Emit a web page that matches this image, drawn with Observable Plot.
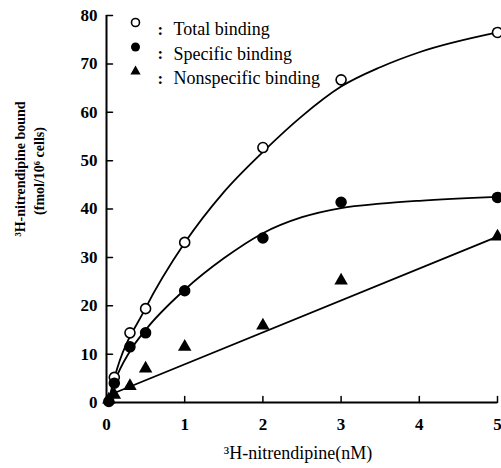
<!DOCTYPE html>
<html>
<head>
<meta charset="utf-8">
<script src="https://cdn.jsdelivr.net/npm/d3@7"></script>
<script src="https://cdn.jsdelivr.net/npm/@observablehq/plot@0.6"></script>
<style>
  html, body { margin: 0; padding: 0; background: #fff; }
</style>
</head>
<body>
<div id="chart"></div>
<script>
// Measured points
const totalX = [0.1, 0.3, 0.5, 1, 2, 3, 5];
const totalY = [5.2, 14.4, 19.4, 33.1, 52.7, 66.7, 76.5];
const specificX = [0.03, 0.1, 0.3, 0.5, 1, 2, 3, 5];
const specificY = [0.2, 4.0, 11.5, 14.4, 23.1, 34.0, 41.4, 42.4];
const nonspecX = [0.03, 0.1, 0.3, 0.5, 1, 2, 3, 5];
const nonspecY = [0.6, 1.6, 3.4, 7.0, 11.5, 15.9, 25.2, 34.3];

// Fitted curves as drawn in the figure
const totalFitX = [0.03, 0.1, 0.5, 1, 1.5, 2, 2.5, 3, 3.5, 4, 5];
const totalFitY = [0.5, 5.0, 19.5, 33.0, 43.5, 51.8, 59.2, 65.3, 69.3, 72.4, 76.5];
const specFitX = [0.03, 0.1, 0.3, 0.5, 1, 1.5, 2, 2.5, 3, 3.5, 4, 5];
const specFitY = [0.2, 4.0, 10.6, 15.0, 23.3, 29.8, 35.0, 38.3, 40.2, 41.1, 41.7, 42.5];
const nonspecFitX = [0.03, 5];
const nonspecFitY = [1.5, 34.3];

const xTicks = [0, 1, 2, 3, 4, 5];
const yTicks = [0, 10, 20, 30, 40, 50, 60, 70, 80];

const legendLabels = ["Total binding", "Specific binding", "Nonspecific binding"];

const zip = (xs, ys) => xs.map((x, i) => ({x, y: ys[i]}));
const total = zip(totalX, totalY);
const specific = zip(specificX, specificY);
const nonspec = zip(nonspecX, nonspecY);

const tickShape = {draw(context, l) { context.moveTo(0, 0); context.lineTo(0, -l); }};

const serif = "'Liberation Serif', 'DejaVu Serif', serif";

const legendMarks = [];
const legendSymbols = [
  {r: 4, fill: "#fff", stroke: "#000", strokeWidth: 1.6},
  {r: 4.5, fill: "#000", stroke: "none"},
  {r: 3.8, symbol: "triangle", fill: "#000", stroke: "none"}
];
legendLabels.forEach((label, i) => {
  const dy = 7 + i * 24.5;
  legendMarks.push(Plot.dot([label], {frameAnchor: "top-left", dx: 29, dy, ...legendSymbols[i]}));
  legendMarks.push(Plot.text([":"], {frameAnchor: "top-left", dx: 51, dy, text: d => d, fontSize: 17, fontWeight: "bold", fill: "#000"}));
  legendMarks.push(Plot.text([label], {frameAnchor: "top-left", dx: 67, dy, text: d => d, textAnchor: "start", fontSize: 18, fill: "#000"}));
});

const chart = Plot.plot({
  width: 501,
  height: 468,
  marginLeft: 106,
  marginRight: 4,
  marginTop: 15,
  marginBottom: 66,
  style: {fontFamily: serif, background: "#fff", color: "#000", overflow: "visible"},
  x: {domain: [0, 5], axis: null},
  y: {domain: [0, 80], axis: null},
  marks: [
    // axis lines
    Plot.ruleX([0], {y1: 0, y2: 80, stroke: "#000", strokeWidth: 2}),
    Plot.ruleY([0], {x1: 0, x2: 5, stroke: "#000", strokeWidth: 2}),
    // inward ticks
    Plot.vector(yTicks, {x: 0, y: d => d, length: 6, rotate: 90, anchor: "start", shape: tickShape, stroke: "#000", strokeWidth: 1.5}),
    Plot.vector(xTicks, {x: d => d, y: 0, length: 6, rotate: 0, anchor: "start", shape: tickShape, stroke: "#000", strokeWidth: 1.5}),
    // tick labels
    Plot.text(yTicks, {x: 0, y: d => d, text: d => String(d), textAnchor: "end", dx: -9, fontSize: 17, fontWeight: "bold", fill: "#000"}),
    Plot.text(xTicks, {x: d => d, y: 0, text: d => String(d), dy: 22, fontSize: 17, fontWeight: "bold", fill: "#000"}),
    // axis titles
    Plot.text(["³H-nitrendipine(nM)"], {frameAnchor: "bottom", text: d => d, textAnchor: "middle", dx: -4, dy: 56, fontSize: 18, fill: "#000"}),
    Plot.text(["³H-nitrendipine bound"], {frameAnchor: "left", text: d => d, textAnchor: "middle", rotate: -90, dx: -86, dy: -40, fontSize: 14, fontWeight: "bold", fill: "#000"}),
    Plot.text(["(fmol/10⁶ cells)"], {frameAnchor: "left", text: d => d, textAnchor: "middle", rotate: -90, dx: -67, dy: -38, fontSize: 14, fontWeight: "bold", fill: "#000"}),
    // fitted curves
    Plot.line(zip(totalFitX, totalFitY), {x: "x", y: "y", curve: "monotone-x", stroke: "#000", strokeWidth: 1.8}),
    Plot.line(zip(specFitX, specFitY), {x: "x", y: "y", curve: "monotone-x", stroke: "#000", strokeWidth: 1.8}),
    Plot.line(zip(nonspecFitX, nonspecFitY), {x: "x", y: "y", stroke: "#000", strokeWidth: 1.8}),
    // data points
    Plot.dot(total, {x: "x", y: "y", r: 5, fill: "#fff", stroke: "#000", strokeWidth: 1.6}),
    Plot.dot(specific, {x: "x", y: "y", r: 5, fill: "#000", stroke: "#000"}),
    Plot.dot(nonspec, {x: "x", y: "y", r: 5, symbol: "triangle", fill: "#000", stroke: "none"}),
    ...legendMarks
  ]
});

document.getElementById("chart").appendChild(chart);
</script>
</body>
</html>
